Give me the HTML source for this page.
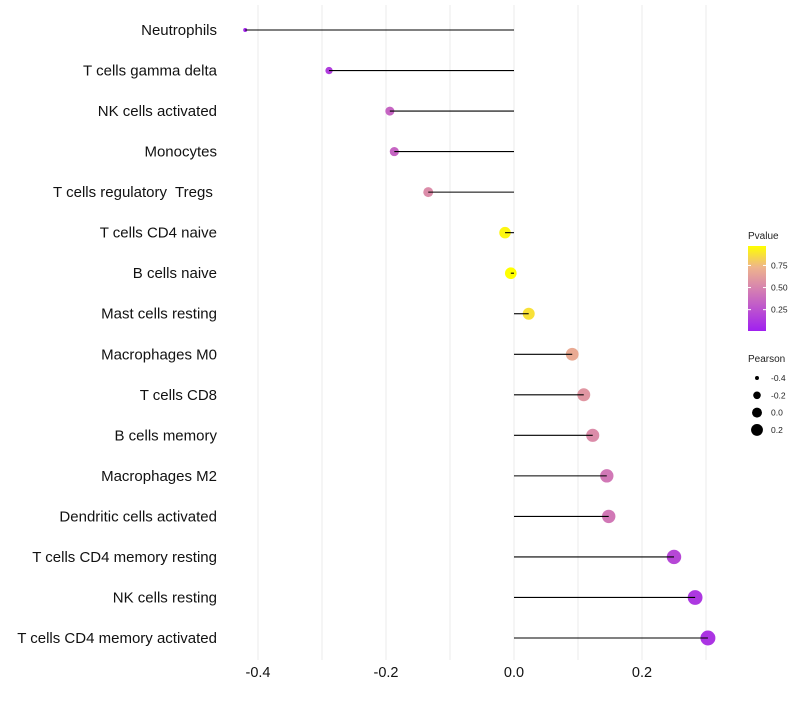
<!DOCTYPE html>
<html><head><meta charset="utf-8"><style>
body{margin:0;background:#fff;}
svg text{font-family:"Liberation Sans",sans-serif;white-space:pre;}
</style></head><body>
<svg id="chart" width="800" height="700"></svg>
<script>
const categories=["Neutrophils","T cells gamma delta","NK cells activated","Monocytes","T cells regulatory  Tregs ","T cells CD4 naive","B cells naive","Mast cells resting","Macrophages M0","T cells CD8","B cells memory","Macrophages M2","Dendritic cells activated","T cells CD4 memory resting","NK cells resting","T cells CD4 memory activated"];
const pearson=[-0.420,-0.289,-0.194,-0.187,-0.134,-0.014,-0.005,0.023,0.091,0.109,0.123,0.145,0.148,0.250,0.283,0.303];
const pvalue=[0.03,0.15,0.35,0.35,0.55,0.97,1.0,0.9,0.7,0.6,0.55,0.45,0.45,0.2,0.12,0.1];
const xTicks=[-0.4,-0.2,0.0,0.2];
const xMinor=[-0.3,-0.1,0.1,0.3];
const pTicks=[0.25,0.5,0.75];
const sizeTicks=[-0.4,-0.2,0.0,0.2];

const NS="http://www.w3.org/2000/svg";
const svg=document.getElementById("chart");
function el(t,a,p){const e=document.createElementNS(NS,t);for(const k in a)e.setAttribute(k,a[k]);(p||svg).appendChild(e);return e;}
const x=v=>514+v*640;
const y=i=>30+i*(608/15);
const rad=v=>Math.sqrt(4+Math.max(0,v+0.42)*72);
const stops=[[0,[160,32,240]],[0.5,[214,130,176]],[0.75,[238,180,140]],[1,[255,255,0]]];
function col(p){p=Math.max(0,Math.min(1,p));for(let i=1;i<stops.length;i++){if(p<=stops[i][0]){const[a,ca]=stops[i-1],[b,cb]=stops[i];const t=(p-a)/(b-a);return "rgb("+ca.map((c,j)=>Math.round(c+(cb[j]-c)*t)).join(",")+")";}}return "rgb(255,255,0)";}

xMinor.concat(xTicks).forEach(v=>{const g=el("line",{x1:x(v),x2:x(v),y1:5,y2:660,stroke:"#ebebeb","stroke-width":1});

});
xTicks.forEach(v=>{const t=el("text",{x:x(v),y:677,"text-anchor":"middle","font-size":"14.5",fill:"#111"});t.textContent=v===0?"0.0":v.toFixed(1);

});

categories.forEach((c,i)=>{
 const t=el("text",{x:217,y:y(i)+5,"text-anchor":"end","font-size":"15",fill:"#111"});t.textContent=c;
 
 
 const p=el("circle",{cx:x(pearson[i]),cy:y(i),r:rad(pearson[i]),fill:col(pvalue[i])});
 
 
 const l=el("line",{x1:x(0),x2:x(pearson[i]),y1:y(i),y2:y(i),stroke:"#000","stroke-width":1.1});
 
 
});

const lt=el("text",{x:748,y:239,"font-size":"10",fill:"#222"});lt.textContent="Pvalue";


const defs=el("defs",{});const gr=el("linearGradient",{id:"pg",x1:0,y1:1,x2:0,y2:0},defs);
stops.forEach(s=>el("stop",{offset:s[0],"stop-color":"rgb("+s[1].join(",")+")"},gr));
const bar=el("rect",{x:748,y:246,width:18,height:85,fill:"url(#pg)"});


const py=p=>330-(p-0.02)/0.95*84;
pTicks.forEach(p=>{el("line",{x1:748,x2:751,y1:py(p),y2:py(p),stroke:"#fff"});el("line",{x1:763,x2:766,y1:py(p),y2:py(p),stroke:"#fff"});
 const t=el("text",{x:771,y:py(p)+3,"font-size":"8.5",fill:"#222"});t.textContent=p.toFixed(2);
 
 });
const st=el("text",{x:748,y:362,"font-size":"10",fill:"#222"});st.textContent="Pearson";


sizeTicks.forEach((v,i)=>{const cy=378+i*17.3;
 const c=el("circle",{cx:757,cy:cy,r:rad(v)*0.85,fill:"#000"});
 
 
 const t=el("text",{x:771,y:cy+3,"font-size":"8.5",fill:"#222"});t.textContent=v===0?"0.0":v.toFixed(1);
 
 });
</script>
</body></html>
